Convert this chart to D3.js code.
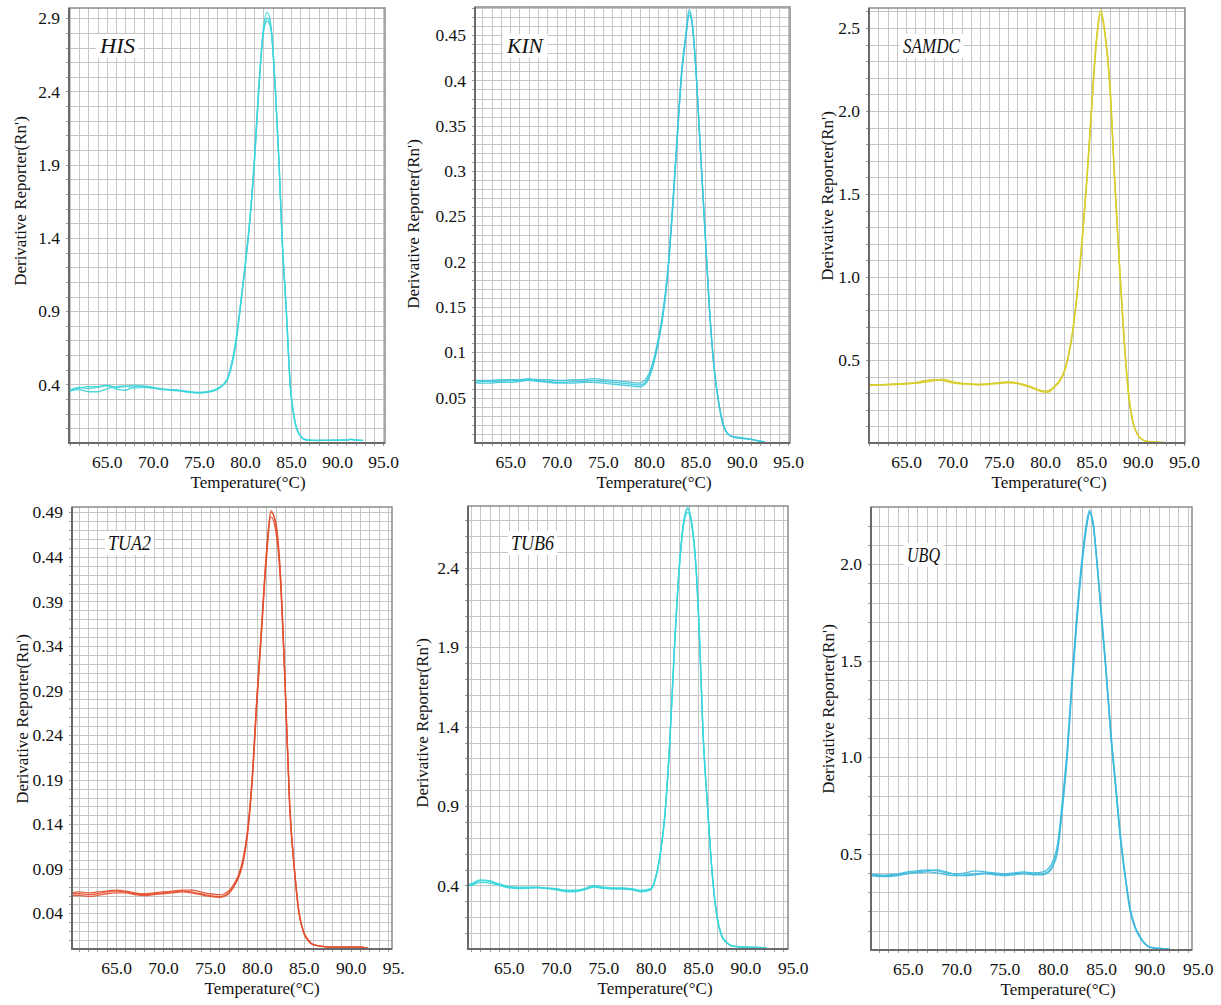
<!DOCTYPE html>
<html>
<head>
<meta charset="utf-8">
<script src="https://cdn.jsdelivr.net/npm/d3@7"></script>
<style>
  html, body { margin: 0; padding: 0; background: #fff; }
  svg { display: block; }
  svg text { font-family: 'Liberation Serif', 'Times New Roman', 'DejaVu Serif', serif; }
</style>
</head>
<body>
<div id="chart"></div>
<script>
// Melt curves (derivative reporter vs temperature), three replicates per gene

const xTicks = [65, 70, 75, 80, 85, 90, 95];

// HIS
const hisTemps = [61,62,63,64,65,66,67,68,69,70,71,72,73,74,75,76,77,78,78.5,79,79.5,80,80.5,81,81.5,82,82.4,82.8,83.3,83.7,84,84.5,84.9,85.4,86,86.7,88,89,90,91,91.5,92,92.8];
const hisRep1 = [0.36,0.375,0.385,0.385,0.39,0.37,0.36,0.385,0.39,0.38,0.37,0.365,0.36,0.35,0.345,0.35,0.37,0.42,0.52,0.68,0.93,1.2,1.5,1.9,2.42,2.83,2.94,2.86,2.42,1.92,1.45,0.9,0.42,0.16,0.05,0.022,0.018,0.018,0.02,0.019,0.025,0.02,0.018];
const hisRep2 = [0.355,0.365,0.35,0.35,0.37,0.385,0.39,0.375,0.38,0.375,0.365,0.36,0.355,0.345,0.34,0.345,0.365,0.43,0.53,0.7,0.94,1.21,1.51,1.92,2.44,2.81,2.9,2.84,2.4,1.9,1.43,0.88,0.4,0.15,0.048,0.021,0.017,0.018,0.019,0.02,0.024,0.02,0.017];
const hisRep3 = [0.362,0.38,0.372,0.38,0.395,0.378,0.385,0.395,0.387,0.374,0.368,0.362,0.358,0.347,0.343,0.352,0.372,0.425,0.51,0.67,0.92,1.19,1.49,1.88,2.4,2.8,2.88,2.83,2.41,1.91,1.44,0.89,0.41,0.155,0.05,0.02,0.018,0.019,0.02,0.02,0.026,0.021,0.018];
const hisTicks = [0.4, 0.9, 1.4, 1.9, 2.4, 2.9];

// KIN
const kinTemps = [61.2,62,63,64,65,66,67,68,69,70,71,72,73,74,75,76,77,78,79,79.5,80,80.5,81,81.5,82,82.5,83,83.5,84,84.3,84.6,85,85.5,86,86.5,87,87.5,88,88.5,89,90,91,92,92.5];
const kinRep1 = [0.069,0.069,0.069,0.07,0.07,0.07,0.071,0.07,0.07,0.069,0.069,0.07,0.07,0.071,0.07,0.069,0.068,0.067,0.066,0.069,0.077,0.093,0.116,0.146,0.19,0.258,0.335,0.41,0.455,0.478,0.468,0.42,0.33,0.24,0.15,0.085,0.045,0.02,0.01,0.007,0.005,0.004,0.002,0.001];
const kinRep2 = [0.066,0.066,0.066,0.067,0.067,0.068,0.069,0.068,0.067,0.066,0.066,0.066,0.067,0.067,0.066,0.065,0.064,0.063,0.062,0.064,0.072,0.088,0.111,0.141,0.185,0.252,0.33,0.405,0.45,0.472,0.465,0.418,0.328,0.238,0.148,0.083,0.044,0.019,0.01,0.007,0.006,0.004,0.002,0.001];
const kinRep3 = [0.067,0.068,0.068,0.068,0.069,0.069,0.07,0.069,0.068,0.067,0.067,0.068,0.068,0.069,0.068,0.067,0.066,0.065,0.064,0.066,0.074,0.09,0.113,0.143,0.188,0.255,0.333,0.408,0.452,0.475,0.466,0.419,0.329,0.239,0.149,0.084,0.045,0.02,0.01,0.007,0.005,0.004,0.002,0.001];
const kinTicks = [0.05, 0.1, 0.15, 0.2, 0.25, 0.3, 0.35, 0.4, 0.45];

// SAMDC
const samdcTemps = [61,62,63,64,65,66,67,68,69,70,71,72,73,74,75,76,77,78,79,80,80.5,81,81.5,82,82.5,83,83.5,84,84.5,85,85.5,86,86.5,87,87.5,88,88.5,89,89.5,90,90.5,91,92,92.8];
const samdcRep1 = [0.35,0.35,0.352,0.355,0.357,0.362,0.372,0.382,0.378,0.365,0.357,0.355,0.352,0.356,0.362,0.366,0.36,0.345,0.325,0.31,0.315,0.34,0.37,0.42,0.52,0.68,0.92,1.22,1.58,2.0,2.4,2.61,2.45,2.15,1.6,1.1,0.65,0.3,0.12,0.05,0.02,0.01,0.005,0.003];
const samdcRep2 = [0.345,0.348,0.35,0.352,0.355,0.36,0.365,0.375,0.385,0.37,0.36,0.353,0.35,0.353,0.358,0.362,0.358,0.342,0.322,0.305,0.31,0.335,0.365,0.415,0.515,0.675,0.915,1.21,1.57,1.98,2.38,2.58,2.44,2.13,1.58,1.08,0.63,0.29,0.115,0.048,0.02,0.01,0.005,0.003];
const samdcRep3 = [0.352,0.352,0.354,0.357,0.36,0.364,0.375,0.38,0.376,0.362,0.356,0.356,0.354,0.358,0.364,0.368,0.362,0.348,0.328,0.312,0.318,0.343,0.372,0.423,0.523,0.683,0.925,1.23,1.59,2.01,2.41,2.6,2.46,2.16,1.61,1.11,0.66,0.31,0.125,0.052,0.021,0.011,0.005,0.003];
const samdcTicks = [0.5, 1.0, 1.5, 2.0, 2.5];

// TUA2
const tua2Temps = [60.3,61,62,63,64,65,66,67,68,69,70,71,72,73,74,75,76,76.5,77,77.5,78,78.5,79,79.5,80,80.5,81,81.5,82,82.5,83,83.5,84,84.5,85,85.5,86,87,88,89,90,91,91.8];
const tua2Rep1 = [0.062,0.062,0.061,0.062,0.064,0.065,0.064,0.062,0.061,0.062,0.063,0.064,0.065,0.064,0.062,0.06,0.059,0.06,0.063,0.07,0.08,0.097,0.13,0.19,0.28,0.36,0.44,0.492,0.476,0.42,0.3,0.16,0.09,0.04,0.018,0.009,0.005,0.003,0.002,0.002,0.002,0.002,0.001];
const tua2Rep2 = [0.06,0.06,0.059,0.06,0.062,0.063,0.063,0.061,0.06,0.061,0.062,0.063,0.064,0.063,0.061,0.059,0.058,0.059,0.062,0.069,0.079,0.095,0.128,0.187,0.275,0.355,0.435,0.485,0.47,0.415,0.297,0.158,0.088,0.039,0.018,0.009,0.005,0.003,0.002,0.002,0.002,0.002,0.001];
const tua2Rep3 = [0.063,0.064,0.063,0.064,0.065,0.066,0.065,0.063,0.062,0.063,0.064,0.065,0.066,0.066,0.064,0.062,0.061,0.062,0.065,0.072,0.082,0.1,0.133,0.193,0.283,0.362,0.442,0.49,0.48,0.423,0.303,0.162,0.091,0.041,0.019,0.01,0.005,0.003,0.002,0.002,0.002,0.002,0.001];
const tua2Ticks = [0.04, 0.09, 0.14, 0.19, 0.24, 0.29, 0.34, 0.39, 0.44, 0.49];

// TUB6
const tub6Temps = [60.7,61,62,63,64,65,66,67,68,69,70,71,72,73,74,75,76,77,78,79,80,80.5,81,81.5,82,82.5,83,83.5,83.9,84.3,84.8,85.2,85.5,86,86.6,87,87.5,88,88.5,89,90,91,92.2];
const tub6Rep1 = [0.4,0.405,0.43,0.425,0.41,0.395,0.39,0.39,0.39,0.385,0.38,0.37,0.37,0.38,0.4,0.39,0.385,0.385,0.38,0.37,0.38,0.45,0.6,0.85,1.3,1.9,2.4,2.7,2.78,2.7,2.4,1.9,1.4,0.9,0.4,0.2,0.08,0.04,0.02,0.015,0.012,0.01,0.008];
const tub6Rep2 = [0.395,0.4,0.42,0.415,0.4,0.385,0.38,0.382,0.385,0.38,0.372,0.362,0.36,0.372,0.39,0.382,0.378,0.378,0.372,0.36,0.372,0.44,0.59,0.84,1.28,1.88,2.38,2.68,2.75,2.68,2.38,1.88,1.39,0.89,0.4,0.21,0.085,0.045,0.022,0.016,0.012,0.01,0.008];
const tub6Rep3 = [0.405,0.41,0.435,0.43,0.405,0.39,0.385,0.386,0.388,0.383,0.378,0.368,0.366,0.378,0.395,0.386,0.382,0.382,0.377,0.365,0.376,0.445,0.595,0.845,1.29,1.89,2.39,2.69,2.77,2.69,2.39,1.89,1.4,0.9,0.41,0.205,0.082,0.042,0.021,0.015,0.012,0.01,0.008];
const tub6Ticks = [0.4, 0.9, 1.4, 1.9, 2.4];

// UBQ
const ubqTemps = [61.2,62,63,64,65,66,67,68,69,70,71,72,73,74,75,76,77,78,79,79.5,80,80.5,81,81.5,82,82.5,83,83.5,83.8,84.2,84.5,85,85.5,86,86.5,87,87.5,88,88.5,89,89.5,90,91,92.1];
const ubqRep1 = [0.39,0.385,0.39,0.395,0.405,0.41,0.415,0.41,0.4,0.395,0.4,0.41,0.405,0.4,0.395,0.4,0.405,0.4,0.405,0.42,0.46,0.55,0.78,1.05,1.42,1.75,2.02,2.22,2.28,2.2,2.05,1.75,1.45,1.12,0.85,0.58,0.38,0.21,0.12,0.07,0.035,0.015,0.008,0.005];
const ubqRep2 = [0.395,0.39,0.385,0.39,0.4,0.4,0.405,0.4,0.39,0.385,0.39,0.395,0.4,0.395,0.39,0.395,0.4,0.395,0.395,0.405,0.44,0.53,0.75,1.02,1.39,1.72,2.0,2.2,2.26,2.19,2.04,1.74,1.44,1.11,0.84,0.57,0.37,0.2,0.115,0.065,0.032,0.014,0.008,0.005];
const ubqRep3 = [0.385,0.38,0.38,0.385,0.395,0.405,0.41,0.415,0.405,0.39,0.385,0.39,0.395,0.39,0.385,0.39,0.395,0.39,0.39,0.4,0.43,0.51,0.73,1.0,1.37,1.7,1.98,2.19,2.27,2.21,2.06,1.77,1.47,1.14,0.87,0.6,0.39,0.22,0.125,0.072,0.036,0.016,0.008,0.005];
const ubqTicks = [0.5, 1.0, 1.5, 2.0];

// panel layout
const panels = [
  { gene: 'HIS', temps: hisTemps, reps: [hisRep1, hisRep2, hisRep3], yTicks: hisTicks, fmt: '.1f',
    color: '#3dd5db', box: [69, 8, 385, 443], xDom: [60.9, 95.2], yDom: [0, 2.97],
    tag: [100, 53, 35], yLab: [20, 201], xLab: 248 },
  { gene: 'KIN', temps: kinTemps, reps: [kinRep1, kinRep2, kinRep3], yTicks: kinTicks, fmt: '~g',
    color: '#3cc8dc', box: [475, 7, 790, 443], xDom: [61.2, 95.2], yDom: [0, 0.481],
    tag: [507, 53, 36], yLab: [413, 224], xLab: 654 },
  { gene: 'SAMDC', temps: samdcTemps, reps: [samdcRep1, samdcRep2, samdcRep3], yTicks: samdcTicks, fmt: '.1f',
    color: '#d8cd2c', box: [869, 8, 1185, 443], xDom: [61.0, 95.1], yDom: [0, 2.62],
    tag: [903, 53, 57], yLab: [827, 196], xLab: 1049 },
  { gene: 'TUA2', temps: tua2Temps, reps: [tua2Rep1, tua2Rep2, tua2Rep3], yTicks: tua2Ticks, fmt: '~g',
    color: '#e3502f', box: [72, 507, 392, 949], xDom: [60.3, 94.4], yDom: [0, 0.496],
    tag: [108, 550, 43], yLab: [22, 719], xLab: 262, clipW: 405 },
  { gene: 'TUB6', temps: tub6Temps, reps: [tub6Rep1, tub6Rep2, tub6Rep3], yTicks: tub6Ticks, fmt: '.1f',
    color: '#36d6dc', box: [468, 506, 788, 949], xDom: [60.7, 94.5], yDom: [0, 2.79],
    tag: [511, 550, 43], yLab: [422, 723], xLab: 655 },
  { gene: 'UBQ', temps: ubqTemps, reps: [ubqRep1, ubqRep2, ubqRep3], yTicks: ubqTicks, fmt: '.1f',
    color: '#3bb9dd', box: [871, 507, 1192, 950], xDom: [61.2, 94.4], yDom: [0, 2.296],
    tag: [907, 562, 33], yLab: [828, 709], xLab: 1058 }
];

const SERIF = "'Liberation Serif', 'Times New Roman', 'DejaVu Serif', serif";
const W = 1221, H = 1005;
const svg = d3.select('#chart').append('svg')
  .attr('width', W)
  .attr('height', H)
  .attr('font-family', SERIF);

svg.append('rect').attr('width', W).attr('height', H).attr('fill', '#fff');
const defs = svg.append('defs');

panels.forEach((p, i) => {
  const [left, top, right, bottom] = p.box;
  const g = svg.append('g');

  if (p.clipW) {
    defs.append('clipPath').attr('id', 'tile' + i)
      .append('rect').attr('x', 0).attr('y', top - 20).attr('width', p.clipW).attr('height', H);
    g.attr('clip-path', `url(#tile${i})`);
  }

  const x = d3.scaleLinear().domain(p.xDom).range([left, right]);
  const y = d3.scaleLinear().domain(p.yDom).range([bottom, top]);

  // grid: one vertical line per degree, five horizontal lines per labelled step
  const step = p.yTicks[1] - p.yTicks[0];
  const minor = d3.range(-60, 80)
    .map(k => p.yTicks[0] + k * step / 5)
    .filter(v => v > p.yDom[0] + 1e-9 && v < p.yDom[1] - 1e-9);
  const degrees = d3.range(Math.ceil(p.xDom[0]), Math.floor(p.xDom[1]) + 1);

  const grid = g.append('g').attr('class', 'grid');
  grid.selectAll('.hline')
    .data(minor)
    .join('line')
      .attr('x1', left).attr('x2', right)
      .attr('y1', d => Math.round(y(d)) + 0.5)
      .attr('y2', d => Math.round(y(d)) + 0.5)
      .attr('stroke', '#c6c6c6')
      .attr('stroke-width', 1);
  grid.selectAll('.vline')
    .data(degrees)
    .join('line')
      .attr('y1', top).attr('y2', bottom)
      .attr('x1', d => Math.round(x(d)) + 0.5)
      .attr('x2', d => Math.round(x(d)) + 0.5)
      .attr('stroke', '#c6c6c6')
      .attr('stroke-width', 1);

  // small outer ticks on the left and bottom edges
  grid.selectAll('.ltick')
    .data(minor)
    .join('line')
      .attr('x1', left - 3).attr('x2', left)
      .attr('y1', d => Math.round(y(d)) + 0.5)
      .attr('y2', d => Math.round(y(d)) + 0.5)
      .attr('stroke', '#999');
  grid.selectAll('.btick')
    .data(degrees)
    .join('line')
      .attr('y1', bottom).attr('y2', bottom + 3)
      .attr('x1', d => Math.round(x(d)) + 0.5)
      .attr('x2', d => Math.round(x(d)) + 0.5)
      .attr('stroke', '#999');

  // gene name with white backing
  const tag = g.append('g');
  const tagText = tag.append('text')
    .attr('x', p.tag[0]).attr('y', p.tag[1])
    .attr('textLength', p.tag[2])
    .attr('lengthAdjust', 'spacingAndGlyphs')
    .attr('font-family', SERIF)
    .attr('font-style', 'italic')
    .attr('font-size', 20)
    .attr('fill', '#111')
    .text(p.gene);
  const bb = tagText.node().getBBox();
  tag.insert('rect', 'text')
    .attr('x', bb.x - 3).attr('y', bb.y - 1)
    .attr('width', bb.width + 6).attr('height', bb.height + 2)
    .attr('fill', '#fff');

  // replicate curves
  const line = d3.line()
    .x((d, j) => x(p.temps[j]))
    .y(d => y(d))
    .curve(d3.curveMonotoneX);
  g.append('g')
    .selectAll('path')
    .data(p.reps)
    .join('path')
      .attr('d', line)
      .attr('fill', 'none')
      .attr('stroke', p.color)
      .attr('stroke-width', 1.3)
      .attr('stroke-opacity', 0.9);

  // frame
  g.append('rect')
    .attr('x', left).attr('y', top)
    .attr('width', right - left).attr('height', bottom - top)
    .attr('fill', 'none')
    .attr('stroke', '#8a8a8a')
    .attr('stroke-width', 1.5);
  g.append('path')
    .attr('d', `M${left},${top}V${bottom}H${right}`)
    .attr('fill', 'none')
    .attr('stroke', '#6a6a6a')
    .attr('stroke-width', 2);

  // axes
  const yAxis = g.append('g')
    .attr('transform', `translate(${left},0)`)
    .call(d3.axisLeft(y).tickValues(p.yTicks).tickFormat(d3.format(p.fmt)).tickSize(0).tickPadding(9))
    .attr('font-family', SERIF)
    .attr('font-size', 17.5);
  yAxis.select('.domain').remove();
  yAxis.selectAll('text').attr('fill', '#111');

  const xAxis = g.append('g')
    .attr('transform', `translate(0,${bottom})`)
    .call(d3.axisBottom(x).tickValues(xTicks).tickFormat(d3.format('.1f')).tickSize(0).tickPadding(13))
    .attr('font-family', SERIF)
    .attr('font-size', 17.5);
  xAxis.select('.domain').remove();
  xAxis.selectAll('text').attr('fill', '#111');

  // axis titles
  g.append('text')
    .attr('x', p.xLab).attr('y', bottom + 45)
    .attr('text-anchor', 'middle')
    .attr('font-family', SERIF)
    .attr('font-size', 17)
    .attr('fill', '#111')
    .text('Temperature(°C)');
  g.append('text')
    .attr('transform', `translate(${p.yLab[0] + 6},${p.yLab[1]}) rotate(-90)`)
    .attr('text-anchor', 'middle')
    .attr('font-family', SERIF)
    .attr('font-size', 17)
    .attr('fill', '#111')
    .text("Derivative Reporter(Rn')");
});
</script>
</body>
</html>
